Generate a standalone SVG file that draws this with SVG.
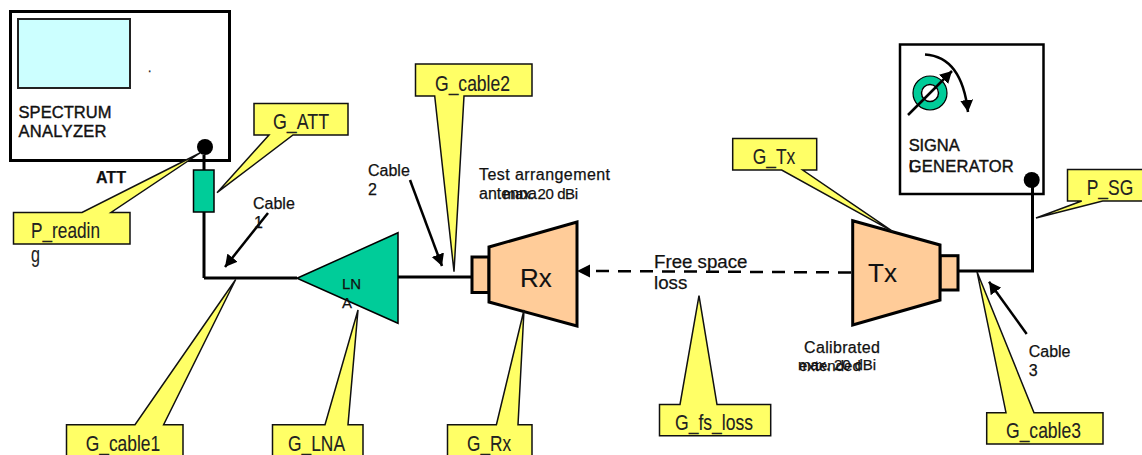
<svg xmlns="http://www.w3.org/2000/svg" width="1142" height="455" viewBox="0 0 1142 455">
<style>
text{font-family:"Liberation Sans",Arial,sans-serif;font-size:16px;fill:#111;stroke:#111;stroke-width:.25}
.lab{font-size:22px;fill:#222;stroke-width:.1}
.call{fill:#FFFF66;stroke:#111;stroke-width:1.5;stroke-linejoin:miter}
.wire{fill:none;stroke:#000;stroke-width:3}
.ptr{fill:none;stroke:#000;stroke-width:2.5;marker-end:url(#head)}
.horn{fill:#FFCC99;stroke:#000;stroke-width:3}
.teal{fill:#00CC99;stroke:#000;stroke-width:1.5}
.box{fill:#fff;stroke:#000;stroke-width:3}
.big{font-size:26px;stroke-width:.1}
.ant{font-size:15px}
.caps{font-size:16.500px;stroke-width:.4}
</style>
<defs>
<marker id="head" markerUnits="userSpaceOnUse" markerWidth="14" markerHeight="14" refX="12" refY="6.5" orient="auto"><path d="M0 0L12 6.5L0 13z" fill="#000"/></marker>
</defs>
<g id="spectrum-analyzer">
<rect class="box" x="10.500" y="11.500" width="219" height="149"/>
<rect x="18" y="19" width="112" height="69" fill="#CCFFFF" stroke="#222" stroke-width="2"/>
<text x="148" y="72" style="font-size:12px">.</text>
<text class="caps" x="18.500" y="118" textLength="93">SPECTRUM</text>
<text class="caps" x="18.500" y="137" textLength="88">ANALYZER</text>
</g>
<g id="signal-generator">
<rect class="box" x="900" y="44.500" width="143.500" height="149.500" style="stroke-width:2.500"/>
<circle cx="930" cy="93" r="13" fill="#fff" stroke="#00CC99" stroke-width="8"/>
<circle cx="930" cy="93" r="17" fill="none" stroke="#000" stroke-width="1.200"/>
<circle cx="930" cy="93" r="8.500" fill="none" stroke="#000" stroke-width="1.500"/>
<path class="ptr" d="M908 115L952 71"/>
<path class="ptr" d="M925 54.500C950 56 964 76 968 112"/>
<text class="caps" x="908.700" y="150.700" textLength="51">SIGNA</text>
<text x="908.700" y="171.700">L</text>
<text class="caps" x="908.700" y="171.700" textLength="105">GENERATOR</text>
</g>
<g id="connectors">
<path class="wire" d="M204 155V278M204 278H297"/>
<path class="wire" d="M398 277H472"/>
<path class="wire" d="M958 271H1032.500V182"/>
<path d="M851 272.500L591 271" fill="none" stroke="#000" stroke-width="2.500" stroke-dasharray="13 9"/>
<path d="M577 271L590 264.500V277.500z" fill="#000"/>
<path class="ptr" d="M268 213L225 267"/>
<path class="ptr" d="M410 180L442 266"/>
<path class="ptr" d="M1026.700 334L989 281.700"/>
<circle cx="205" cy="147" r="8" fill="#000"/>
<circle cx="1031.700" cy="180" r="8" fill="#000"/>
</g>
<g id="attenuator">
<rect class="teal" x="193.500" y="170" width="20.500" height="42"/>
<text x="96" y="183" font-weight="bold">ATT</text>
</g>
<g id="lna">
<path class="teal" d="M297 278.300L398 232.700V323.300z"/>
<text x="342" y="289" class="ant">LN</text>
<text x="342" y="308" class="ant">A</text>
</g>
<g id="rx">
<rect class="horn" x="472" y="257" width="17" height="35.500"/>
<path class="horn" d="M489 247L577 222V326L489 302z"/>
<text x="520" y="287" class="big">Rx</text>
</g>
<g id="tx">
<rect class="horn" x="940" y="255.700" width="18" height="34.300"/>
<path class="horn" d="M852.700 220.700L940 245V300L852.700 325z"/>
<text x="868" y="282" class="big">Tx</text>
</g>
<g id="connector-labels">
<text x="253" y="209">Cable</text>
<text x="254" y="228">1</text>
<text x="368" y="176">Cable</text>
<text x="368" y="195">2</text>
<text x="1028.700" y="356.700">Cable</text>
<text x="1028.700" y="376">3</text>
<text x="654" y="268" style="font-size:18.700px">Free space</text>
<text x="654" y="289" style="font-size:18.700px">loss</text>
<text x="479" y="180" textLength="131">Test arrangement</text>
<text x="479" y="199">antenna</text>
<text x="503" y="199" class="ant" textLength="75">max. 20  dBi</text>
<text x="804" y="352.700" textLength="76">Calibrated</text>
<text x="799" y="370.700" class="ant">extended</text>
<text x="798" y="369.700" class="ant" textLength="78">max. 20 dBi</text>
</g>
<g id="callout-P_reading">
<path class="call" d="M13.500 212.500H82L200 153L111 212.500H130V244H13.500z"/>
<text class="lab" x="31" y="238" textLength="69" lengthAdjust="spacingAndGlyphs">P_readin</text>
<text class="lab" x="31" y="262" textLength="9" lengthAdjust="spacingAndGlyphs">g</text>
</g>
<g id="callout-G_ATT">
<path class="call" d="M254 103.500H348V135H293L217 192.700L269 135H254z"/>
<text class="lab" x="273" y="129" textLength="56" lengthAdjust="spacingAndGlyphs">G_ATT</text>
</g>
<g id="callout-G_cable2">
<path class="call" d="M415.500 64H532V96H464L454 271.700L434.700 96H415.500z"/>
<text class="lab" x="435" y="91" textLength="75" lengthAdjust="spacingAndGlyphs">G_cable2</text>
</g>
<g id="callout-G_Tx">
<path class="call" d="M732.700 138.500H816.700V170H802.700L893 231.700L781.700 170H732.700z"/>
<text class="lab" x="752.700" y="164" textLength="42.500" lengthAdjust="spacingAndGlyphs">G_Tx</text>
</g>
<g id="callout-P_SG">
<path class="call" d="M1067.500 169.500H1143V201H1102.700L1036 218L1081.700 201H1067.500z"/>
<text class="lab" x="1086.700" y="195" textLength="46.500" lengthAdjust="spacingAndGlyphs">P_SG</text>
</g>
<g id="callout-G_cable1">
<path class="call" d="M66.500 424.700H135L235.700 279.500L163.600 424.700H183V460H66.500z"/>
<text class="lab" x="85.700" y="450.700" textLength="74.500" lengthAdjust="spacingAndGlyphs">G_cable1</text>
</g>
<g id="callout-G_LNA">
<path class="call" d="M272.500 424.700H325L358 310L348 424.700H363V460H272.500z"/>
<text class="lab" x="288" y="450.700" textLength="57" lengthAdjust="spacingAndGlyphs">G_LNA</text>
</g>
<g id="callout-G_Rx">
<path class="call" d="M447.500 424.700H496.400L524 310L518 424.700H532V460H447.500z"/>
<text class="lab" x="467" y="450.700" textLength="44" lengthAdjust="spacingAndGlyphs">G_Rx</text>
</g>
<g id="callout-G_fs_loss">
<path class="call" d="M659.500 404.500H680L699 295.700L717 404.500H770.700V435.700H659.500z"/>
<text class="lab" x="675" y="430" textLength="78" lengthAdjust="spacingAndGlyphs">G_fs_loss</text>
</g>
<g id="callout-G_cable3">
<path class="call" d="M986.700 412.700H1006L977 271.700L1034 412.700H1103V444H986.700z"/>
<text class="lab" x="1006" y="438" textLength="75" lengthAdjust="spacingAndGlyphs">G_cable3</text>
</g>
</svg>
